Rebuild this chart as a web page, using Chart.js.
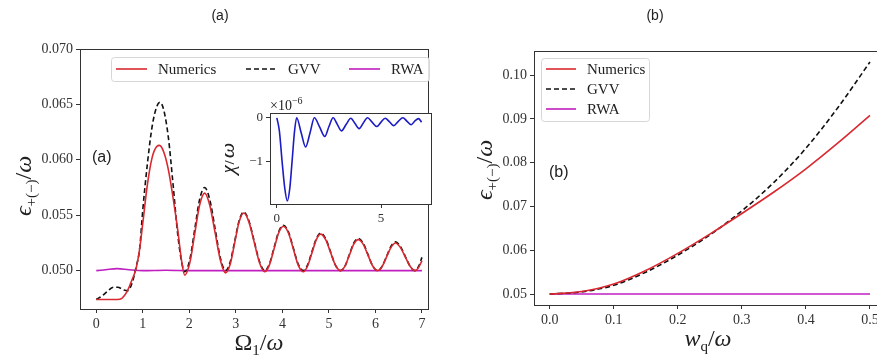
<!DOCTYPE html>
<html lang="en">
<head>
<meta charset="utf-8" />
<title>Numerics vs GVV vs RWA</title>
<script src="https://cdn.jsdelivr.net/npm/chart.js"></script>
<style>
  html, body { margin: 0; padding: 0; overflow: hidden; background: #fff; }
  body { position: relative; width: 877px; height: 358px; }
  canvas { position: absolute; }
</style>
</head>
<body>
<canvas id="chartA" width="440" height="358" style="left:0;top:0;width:440px;height:358px"></canvas>
<canvas id="chartB" width="460" height="358" style="left:440px;top:0;width:460px;height:358px"></canvas>
<canvas id="inset" width="215" height="135" style="left:225px;top:95px;width:215px;height:135px"></canvas>
<script>
// ---- panel (a): energy vs Omega_1/omega ----
var numA_x = [0, 0.25, 0.45, 0.55, 0.66, 0.77, 0.85, 0.93, 1.0, 1.1, 1.2, 1.3, 1.36, 1.45, 1.55, 1.65, 1.75, 1.83, 1.9,
    2.01, 2.115, 2.22, 2.33, 2.44, 2.555, 2.67, 2.78, 2.88, 2.975, 3.07, 3.17, 3.28, 3.395, 3.51, 3.62,
    3.72, 3.82, 3.92, 4.02, 4.13, 4.235, 4.34, 4.45, 4.54, 4.635, 4.73, 4.82, 4.93, 5.035, 5.14, 5.25,
    5.345, 5.44, 5.535, 5.63, 5.735, 5.84, 5.945, 6.05, 6.145, 6.24, 6.335, 6.43, 6.535, 6.64, 6.745, 6.85, 6.93, 7.0];
var numA_y = [0.0474, 0.0474, 0.0474, 0.0475, 0.0481, 0.0492, 0.0501, 0.0519, 0.0543, 0.0578, 0.0602, 0.0612, 0.0613, 0.0607, 0.0591, 0.0566, 0.0537, 0.0510, 0.0496,
    0.0507, 0.0533, 0.0559, 0.0570, 0.0559, 0.0534, 0.0509, 0.0498, 0.0506, 0.0525, 0.0544, 0.0552, 0.0544, 0.05255, 0.0507, 0.0499,
    0.0505, 0.05195, 0.0534, 0.0540, 0.0534, 0.05195, 0.0505, 0.0499, 0.0504, 0.0516, 0.0528, 0.0533, 0.0528, 0.05165, 0.0505, 0.0500,
    0.0504, 0.0514, 0.0524, 0.0528, 0.0524, 0.0514, 0.0504, 0.0500, 0.05038, 0.05125, 0.0521, 0.0525, 0.0521, 0.05125, 0.0504, 0.0500, 0.0503, 0.0509];
var gvvA_x = [0, 0.12, 0.23, 0.37, 0.46, 0.59, 0.68, 0.77, 0.86, 0.93, 1.0, 1.1, 1.2, 1.3, 1.37, 1.45, 1.55, 1.65, 1.75, 1.83, 1.9,
    2.01, 2.115, 2.22, 2.33, 2.44, 2.555, 2.67, 2.78, 2.88, 2.975, 3.07, 3.17, 3.28, 3.395, 3.51, 3.62,
    3.72, 3.82, 3.92, 4.02, 4.13, 4.235, 4.34, 4.45, 4.54, 4.635, 4.73, 4.82, 4.93, 5.035, 5.14, 5.25,
    5.345, 5.44, 5.535, 5.63, 5.735, 5.84, 5.945, 6.05, 6.145, 6.24, 6.335, 6.43, 6.535, 6.64, 6.745, 6.85, 6.93, 7.0];
var gvvA_y = [0.0474, 0.0477, 0.0481, 0.0485, 0.0485, 0.04826, 0.0482, 0.0489, 0.0504, 0.0519, 0.0555, 0.0597, 0.0630, 0.0648, 0.0652, 0.0645, 0.0620, 0.0578, 0.0533, 0.0509, 0.0499,
    0.0510, 0.0537, 0.0564, 0.0575, 0.0564, 0.05375, 0.0511, 0.0500, 0.0508, 0.05265, 0.0545, 0.0553, 0.0545, 0.05265, 0.0508, 0.0500,
    0.0506, 0.05205, 0.0535, 0.0541, 0.0535, 0.05205, 0.0506, 0.0500, 0.0505, 0.0517, 0.0529, 0.0534, 0.0529, 0.0517, 0.0505, 0.0500,
    0.0504, 0.05145, 0.0525, 0.0529, 0.0525, 0.05145, 0.0504, 0.0500, 0.0504, 0.0513, 0.0522, 0.0526, 0.0522, 0.0513, 0.0504, 0.0500, 0.0504, 0.0512];
var rwaA_x = [0, 0.2, 0.45, 0.7, 1.0, 1.5, 2.0, 3.0, 4.0, 5.0, 6.0, 7.0];
var rwaA_y = [0.0500, 0.05008, 0.05018, 0.05008, 0.0500, 0.05004, 0.0500, 0.0500, 0.0500, 0.0500, 0.0500, 0.0500];
var ticksA_x = [0, 1, 2, 3, 4, 5, 6, 7];
var ticksA_y = [0.050, 0.055, 0.060, 0.065, 0.070];

// ---- inset: chi/omega in units of 1e-6 ----
var chi_x = [0, 0.12, 0.25, 0.38, 0.5, 0.62, 0.73, 0.85, 0.95, 1.17, 1.38, 1.6, 1.8, 2.05, 2.3, 2.5, 2.7, 2.9, 3.1, 3.33, 3.55,
    3.75, 3.95, 4.15, 4.35, 4.57, 4.8, 5.0, 5.2, 5.4, 5.6, 5.83, 6.05, 6.25, 6.45, 6.63, 6.8, 6.95];
var chi_y = [0, -0.3, -1.0, -1.62, -1.91, -1.62, -1.0, -0.3, 0, -0.35, -0.67, -0.33, 0, -0.21, -0.43, -0.2, 0, -0.15, -0.30, -0.15, -0.01,
    -0.13, -0.25, -0.12, 0, -0.1, -0.2, -0.1, -0.01, -0.09, -0.18, -0.08, 0, -0.08, -0.16, -0.07, -0.02, -0.1];
var ticksIn_x = [0, 5];
var ticksIn_y = [0, -1];

// ---- panel (b): energy vs w_q/omega ----
var b_x = [0, 0.05, 0.1, 0.15, 0.2, 0.25, 0.3, 0.35, 0.4, 0.45, 0.5];
var numB_y = [0.0500, 0.0506, 0.0523, 0.0554, 0.0593, 0.0637, 0.0684, 0.0733, 0.0786, 0.0845, 0.0908];
var gvvB_y = [0.0500, 0.0505, 0.0520, 0.0550, 0.0589, 0.0635, 0.0690, 0.0755, 0.0833, 0.0926, 0.1030];
var rwaB_y = [0.0500, 0.0500, 0.0500, 0.0500, 0.0500, 0.0500, 0.0500, 0.0500, 0.0500, 0.0500, 0.0500];
var ticksB_x = [0, 0.1, 0.2, 0.3, 0.4, 0.5];
var ticksB_y = [0.05, 0.06, 0.07, 0.08, 0.09, 0.10];

var RED = '#d9282f', MAG = '#bf1fbf', BLUE = '#1c1cc4', INK = '#333';
var SERIF = '"Liberation Serif", "DejaVu Serif", serif';
var SANS = '"Liberation Sans", Arial, sans-serif';

function pts(xs, ys) {
    return xs.map(function (x, i) { return { x: x, y: ys[i] }; });
}

function fixedTicks(list) {
    return function (scale) { scale.ticks = list.map(function (v) { return { value: v }; }); };
}

// draws a run of text pieces (for sub/superscripts), optionally rotated
function drawMath(ctx, item) {
    ctx.save();
    ctx.translate(item.x, item.y);
    if (item.rot) ctx.rotate(item.rot);
    var w = 0;
    item.segs.forEach(function (s) { ctx.font = s.f; w += ctx.measureText(s.t).width; });
    var x = item.align === 'left' ? 0 : -w / 2;
    ctx.textBaseline = 'alphabetic';
    ctx.fillStyle = item.color || '#222';
    item.segs.forEach(function (s) {
        ctx.font = s.f;
        ctx.fillText(s.t, x, s.dy || 0);
        x += ctx.measureText(s.t).width;
    });
    ctx.restore();
}

var decor = {
    id: 'decor',
    beforeDatasetsDraw: function (chart, args, o) {
        if (o.whiteBg) {
            var a = chart.chartArea;
            chart.ctx.save();
            chart.ctx.fillStyle = '#fff';
            chart.ctx.fillRect(a.left, a.top, a.width, a.height);
            chart.ctx.restore();
        }
    },
    afterDraw: function (chart, args, o) {
        var ctx = chart.ctx, a = chart.chartArea;
        ctx.save();
        ctx.strokeStyle = INK;
        ctx.lineWidth = 1;
        ctx.strokeRect(Math.round(a.left) + 0.5, Math.round(a.top) + 0.5, Math.round(a.width), Math.round(a.height));
        ctx.restore();
        (o.texts || []).forEach(function (t) { drawMath(ctx, t(a)); });
        var L = o.legend;
        if (!L) return;
        ctx.save();
        ctx.beginPath();
        ctx.roundRect(L.x + 0.5, L.y + 0.5, L.w, L.h, 3);
        ctx.fillStyle = 'rgba(255,255,255,0.85)';
        ctx.fill();
        ctx.strokeStyle = '#d6d6d6';
        ctx.stroke();
        chart.data.datasets.forEach(function (ds, i) {
            var p = L.items[i];
            ctx.strokeStyle = ds.borderColor;
            ctx.lineWidth = ds.borderWidth;
            ctx.setLineDash(ds.borderDash || []);
            ctx.beginPath();
            ctx.moveTo(p[0], p[1]);
            ctx.lineTo(p[0] + L.len, p[1]);
            ctx.stroke();
            ctx.setLineDash([]);
            ctx.fillStyle = '#222';
            ctx.font = L.font;
            ctx.textBaseline = 'middle';
            ctx.fillText(ds.label, p[0] + L.len + 11, p[1] + 1);
        });
        ctx.restore();
    }
};

function axisCfg(min, max, list, fmt, size) {
    return {
        type: 'linear', min: min, max: max,
        afterBuildTicks: fixedTicks(list),
        grid: { drawOnChartArea: false, drawTicks: true, tickLength: 4, tickColor: INK },
        border: { color: INK },
        ticks: { color: INK, padding: 3, font: { family: SERIF, size: size || 14 }, callback: fmt }
    };
}

function line(label, data, color, dash) {
    return {
        label: label, data: data, borderColor: color, borderWidth: 1.6,
        borderDash: dash || [], pointRadius: 0, cubicInterpolationMode: 'monotone', fill: false
    };
}

var big = 'italic 24px ' + SERIF, bigUp = '24px ' + SERIF, sub = '15px ' + SERIF;

new Chart(document.getElementById('chartA'), {
    type: 'line',
    data: {
        datasets: [
            line('Numerics', pts(numA_x, numA_y), RED),
            line('GVV', pts(gvvA_x, gvvA_y), '#111', [5, 3]),
            line('RWA', pts(rwaA_x, rwaA_y), MAG)
        ]
    },
    options: {
        responsive: false, animation: false,
        layout: { padding: { left: 0, right: 12, top: 49, bottom: 0 } },
        scales: {
            x: Object.assign(axisCfg(-0.35, 7.13, ticksA_x, function (v) { return String(v); }), {
                afterFit: function (s) { s.height = 49; }
            }),
            y: Object.assign(axisCfg(0.04654, 0.070, ticksA_y, function (v) { return v.toFixed(3); }), {
                afterFit: function (s) { s.width = 80; }
            })
        },
        plugins: {
            legend: { display: false }, tooltip: { enabled: false },
            decor: {
                legend: { x: 111, y: 57, w: 318, h: 24, len: 31, font: '15px ' + SERIF,
                          items: [[116, 69], [246, 69], [349, 69]] },
                texts: [
                    function (a) { return { x: 220, y: 20, segs: [{ t: '(a)', f: '14px ' + SANS }] }; },
                    function (a) { return { x: 92, y: 162, align: 'left', segs: [{ t: '(a)', f: '16px ' + SANS }] }; },
                    function (a) { return { x: (a.left + a.right) / 2 + 5, y: a.bottom + 41, segs: [
                        { t: 'Ω', f: bigUp }, { t: '1', f: sub, dy: 5 }, { t: '/', f: bigUp }, { t: 'ω', f: big }] }; },
                    function (a) { return { x: a.left - 49, y: (a.top + a.bottom) / 2 + 7, rot: -Math.PI / 2, segs: [
                        { t: 'ϵ', f: big }, { t: '+(−)', f: sub, dy: 5 }, { t: '/', f: bigUp }, { t: 'ω', f: big }] }; }
                ]
            }
        }
    },
    plugins: [decor]
});

new Chart(document.getElementById('inset'), {
    type: 'line',
    data: { datasets: [line('chi', pts(chi_x, chi_y), BLUE)] },
    options: {
        responsive: false, animation: false,
        layout: { padding: { left: 0, right: 9, top: 18, bottom: 0 } },
        scales: {
            x: Object.assign(axisCfg(-0.33, 7.4, ticksIn_x, function (v) { return String(v); }, 13), {
                afterFit: function (s) { s.height = 26; }
            }),
            y: Object.assign(axisCfg(-1.98, 0.11, ticksIn_y, function (v) { return String(v).replace('-', '−'); }, 13), {
                afterFit: function (s) { s.width = 45; }
            })
        },
        plugins: {
            legend: { display: false }, tooltip: { enabled: false },
            decor: {
                whiteBg: true,
                texts: [
                    function (a) { return { x: a.left, y: 15, align: 'left', segs: [
                        { t: '×10', f: '14px ' + SERIF }, { t: '−6', f: '10px ' + SERIF, dy: -6 }] }; },
                    function (a) { return { x: 9, y: (a.top + a.bottom) / 2, rot: -Math.PI / 2, segs: [
                        { t: 'χ', f: 'italic 22px ' + SERIF }, { t: '/', f: '22px ' + SERIF }, { t: 'ω', f: 'italic 22px ' + SERIF }] }; }
                ]
            }
        }
    },
    plugins: [decor]
});

new Chart(document.getElementById('chartB'), {
    type: 'line',
    data: {
        datasets: [
            line('Numerics', pts(b_x, numB_y), RED),
            line('GVV', pts(b_x, gvvB_y), '#111', [5, 3]),
            line('RWA', pts(b_x, rwaB_y), MAG)
        ]
    },
    options: {
        responsive: false, animation: false,
        layout: { padding: { left: 0, right: 14, top: 51, bottom: 0 } },
        scales: {
            x: Object.assign(axisCfg(-0.0245, 0.525, ticksB_x, function (v) { return v.toFixed(1); }), {
                afterFit: function (s) { s.height = 53; }
            }),
            y: Object.assign(axisCfg(0.0475, 0.1055, ticksB_y, function (v) { return v.toFixed(2); }), {
                afterFit: function (s) { s.width = 94; }
            })
        },
        plugins: {
            legend: { display: false }, tooltip: { enabled: false },
            decor: {
                legend: { x: 101, y: 58, w: 108, h: 63, len: 30, font: '15px ' + SERIF,
                          items: [[106, 69], [106, 89], [106, 109]] },
                texts: [
                    function (a) { return { x: 215, y: 20, segs: [{ t: '(b)', f: '14px ' + SANS }] }; },
                    function (a) { return { x: 109, y: 177, align: 'left', segs: [{ t: '(b)', f: '16px ' + SANS }] }; },
                    function (a) { return { x: 268, y: a.bottom + 41, segs: [
                        { t: 'w', f: big }, { t: 'q', f: sub, dy: 5 }, { t: '/', f: bigUp }, { t: 'ω', f: big }] }; },
                    function (a) { return { x: a.left - 42, y: (a.top + a.bottom) / 2 - 8, rot: -Math.PI / 2, segs: [
                        { t: 'ϵ', f: big }, { t: '+(−)', f: sub, dy: 5 }, { t: '/', f: bigUp }, { t: 'ω', f: big }] }; }
                ]
            }
        }
    },
    plugins: [decor]
});
</script>
</body>
</html>
